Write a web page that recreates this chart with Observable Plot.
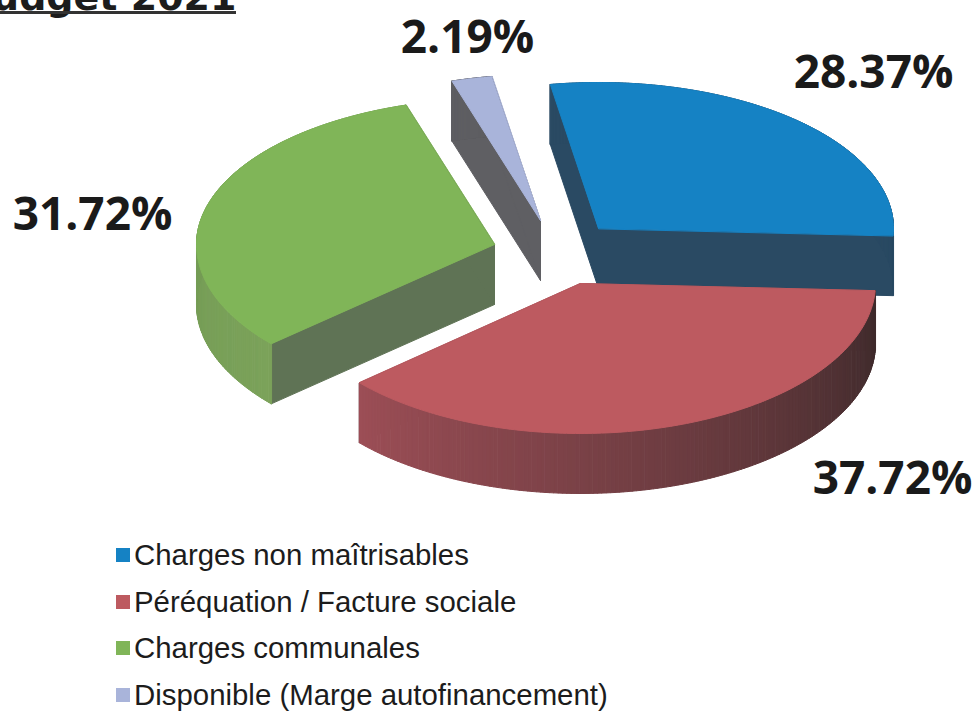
<!DOCTYPE html>
<html lang="fr">
<head>
<meta charset="utf-8">
<script src="https://cdn.jsdelivr.net/npm/d3@7"></script>
<script src="https://cdn.jsdelivr.net/npm/@observablehq/plot@0.6"></script>
<style>
html,body{margin:0;padding:0;background:#fff;overflow:hidden}
#chart svg{display:block}
#legend{position:relative;height:181px;font-family:"Liberation Sans",Arial,sans-serif;font-size:29.4px;color:#1c1c1c}
.row{position:absolute;left:116px;display:flex;align-items:center;height:40px;white-space:nowrap}
.sw{display:inline-block;width:14px;height:14px;margin-right:4px}
</style>
</head>
<body>
<div id="chart"></div>
<div id="legend"></div>
<script>
// Data
const categories = ["Charges non maîtrisables", "Péréquation / Facture sociale", "Charges communales", "Disponible (Marge autofinancement)"];
const shares = [28.37, 37.72, 31.72, 2.19];
const titleText = "Budget 2021";

// Styles and layout
const topColors = ["#1582c4", "#bd5a60", "#80b558", "#a9b4da"];
const flatWall = ["#2a4a63", "#7d4a50", "#5f7355", "#5f5f63"];
const arcWallFrom = ["#2a4a63", "#9c4e56", "#6d9450", "#5f5f63"];
const arcWallTo = ["#2a4a63", "#3c2a2b", "#7ba25a", "#5f5f63"];
const apexX = [598, 580, 494, 540];
const apexY = [228, 283, 244, 220];
const radiusX = [295, 295, 298, 298];
const labelX = [873, 892, 92, 467];
const labelY = [73, 479, 215, 38];
const ryUp = 146, ryDown = 150, depth = 60, startDeg = -9.4;
const W = 979, H = 530;

const rad = d => d * Math.PI / 180;
let cum = startDeg;
const slices = shares.map((v, i) => {
  const a0 = cum, a1 = cum + v * 3.6; cum = a1;
  return {i, a0, a1};
});
const edge = (s, t) => {
  const c = Math.cos(rad(t));
  return {
    x: apexX[s.i] + radiusX[s.i] * Math.sin(rad(t)),
    y: apexY[s.i] - (c > 0 ? ryUp : ryDown) * c
  };
};
const arcPts = (s, from, to, n) => d3.range(n + 1).map(k => edge(s, from + (to - from) * k / n));

const polys = [];
let pid = 0;
const addPoly = (pts, fill) => { const id = pid++; pts.forEach(p => polys.push({id, x: p.x, y: p.y, fill})); };
const down = p => ({x: p.x, y: p.y + depth});

// draw order: blue, sliver, green, red
for (const i of [0, 3, 2, 1]) {
  const s = slices[i];
  const apex = {x: apexX[i], y: apexY[i]};
  const start = edge(s, s.a0), end = edge(s, s.a1);
  // side walls from apex
  addPoly([start, apex, down(apex), down(start)], flatWall[i]);
  addPoly([end, apex, down(apex), down(end)], flatWall[i]);
  // outer curved wall, cut in short shaded strips
  const n = 160;
  const shade = d3.interpolateRgb(arcWallTo[i], arcWallFrom[i]);
  for (let k = 0; k < n; k++) {
    const t0 = s.a0 + (s.a1 - s.a0) * k / n, t1 = s.a0 + (s.a1 - s.a0) * (k + 1) / n;
    const a = edge(s, t0), b = edge(s, t1);
    addPoly([a, b, down(b), down(a)], shade((k + 0.5) / n));
  }
  // top face
  addPoly([apex, ...arcPts(s, s.a0, s.a1, 80)], topColors[i]);
}

const labels = shares.map((v, i) => ({text: v.toFixed(2) + "%", x: labelX[i], y: labelY[i]}));

const plot = Plot.plot({
  width: W, height: H, margin: 0,
  style: {background: "#fff", overflow: "hidden"},
  x: {domain: [0, W], range: [0, W], axis: null},
  y: {domain: [0, H], range: [0, H], axis: null},
  color: {type: "identity"},
  marks: [
    Plot.line(polys, {x: "x", y: "y", z: "id", fill: "fill", stroke: "fill", strokeWidth: 1, curve: "linear-closed"}),
    Plot.text(labels, {x: "x", y: "y", text: "text", fontFamily: "'Open Sans', Lato, sans-serif", fontWeight: 700, fontSize: 46, fill: "#1a1a1a", textAnchor: "middle"}),
    Plot.text([titleText], {x: () => 236, y: () => 9, text: d => d, textAnchor: "end", lineAnchor: "bottom", fontFamily: "'DejaVu Sans', sans-serif", fontWeight: 700, fontSize: 38, fill: "#1c1c1c"}),
    Plot.ruleY([12], {x1: 0, x2: 236, stroke: "#333", strokeWidth: 3})
  ]
});
document.getElementById("chart").append(plot);

const legend = document.getElementById("legend");
const rowY = [5, 52, 98, 145];
categories.forEach((c, i) => {
  const r = document.createElement("div");
  r.className = "row";
  r.style.top = rowY[i] + "px";
  const sw = document.createElement("span");
  sw.className = "sw";
  sw.style.background = topColors[i];
  const t = document.createElement("span");
  t.textContent = c;
  r.append(sw, t);
  legend.append(r);
});
</script>
</body>
</html>
